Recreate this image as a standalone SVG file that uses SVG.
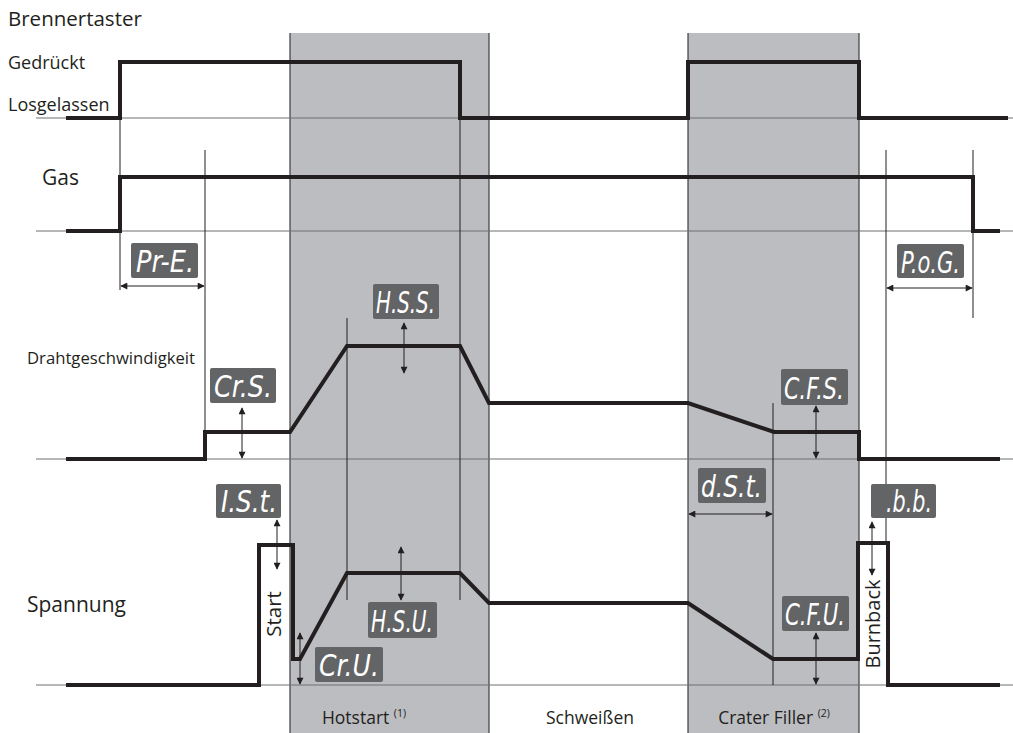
<svg xmlns="http://www.w3.org/2000/svg" width="1013" height="733" viewBox="0 0 1013 733">
<defs>
<marker id="ah" viewBox="0 0 10 10" refX="9" refY="5" markerWidth="8" markerHeight="7" markerUnits="userSpaceOnUse" orient="auto-start-reverse">
<path d="M0,0 L10,5 L0,10 z" fill="#231f20"/>
</marker>
<style>
.band{fill:#bcbdc0}
.edge{stroke:#3c3c3c;stroke-width:1.2}
.base{stroke:#6d6e70;stroke-width:1}
.guide{stroke:#231f20;stroke-width:1}
.sig{fill:none;stroke:#231f20;stroke-width:4;stroke-linejoin:miter}
.dim{stroke:#231f20;stroke-width:1;marker-start:url(#ah);marker-end:url(#ah)}
.lbl{font-family:"Open Sans","Liberation Sans",sans-serif;fill:#231f20}
.box{fill:#636466}
.seg{font-family:"DejaVu Sans","Liberation Sans",sans-serif;font-style:italic;font-weight:200;fill:#ffffff;font-size:31px}
</style>
</defs>
<rect width="1013" height="733" fill="#ffffff"/>
<g id="bands">
<rect class="band" x="290" y="33" width="199" height="700"/>
<rect class="band" x="688" y="33" width="171" height="700"/>
<line class="edge" x1="290" y1="33" x2="290" y2="733"/>
<line class="edge" x1="489" y1="33" x2="489" y2="733"/>
<line class="edge" x1="688" y1="33" x2="688" y2="733"/>
<line class="edge" x1="859" y1="33" x2="859" y2="733"/>
</g>
<g id="connectors">
<line class="base" x1="36" y1="118" x2="1013" y2="118"/>
<line class="base" x1="36" y1="231" x2="1013" y2="231"/>
<line class="base" x1="36" y1="459" x2="1013" y2="459"/>
<line class="base" x1="36" y1="685" x2="1013" y2="685"/>
<line class="guide" x1="120" y1="118" x2="120" y2="290"/>
<line class="guide" x1="205" y1="150" x2="205" y2="432"/>
<line class="guide" x1="347" y1="318" x2="347" y2="600"/>
<line class="guide" x1="460" y1="118" x2="460" y2="600"/>
<line class="guide" x1="773" y1="403" x2="773" y2="685"/>
<line class="guide" x1="886" y1="150" x2="886" y2="543"/>
<line class="guide" x1="973" y1="150" x2="973" y2="318"/>
<polyline class="sig" points="66,118 120,118 120,62 460,62 460,118 688,118 688,62 859,62 859,118 1008,118"/>
<polyline class="sig" points="66,231 120,231 120,177 973,177 973,231 1000,231"/>
<polyline class="sig" points="66,459 205,459 205,432 290,432 347,346 460,346 489,403 688,403 774,432 859,432 859,459 1000,459"/>
<polyline class="sig" points="66,685 259,685 259,545 293,545 293,659 300,659 347,573 460,573 489,603 688,603 773,659 858,659 858,543 888,543 888,685 1000,685"/>
<line class="dim" x1="121" y1="286" x2="204" y2="286"/>
<line class="dim" x1="887" y1="288" x2="972" y2="288"/>
<line class="dim" x1="689" y1="514" x2="772" y2="514"/>
<line class="dim" x1="242" y1="408" x2="242" y2="458"/>
<line class="dim" x1="404" y1="323" x2="404" y2="373"/>
<line class="dim" x1="816" y1="406" x2="816" y2="458"/>
<line class="dim" x1="872" y1="522" x2="872" y2="575"/>
<line class="dim" x1="816" y1="633" x2="816" y2="684"/>
<line class="dim" x1="277" y1="520" x2="277" y2="569"/>
<line class="dim" x1="401" y1="547" x2="401" y2="600"/>
<line class="dim" x1="300" y1="633" x2="300" y2="684"/>
</g>
<g id="labels">
<text class="lbl" x="8" y="26" font-size="20.5">Brennertaster</text>
<text class="lbl" x="8" y="69" font-size="18">Gedrückt</text>
<text class="lbl" x="8" y="111" font-size="18">Losgelassen</text>
<text class="lbl" x="42" y="185" font-size="21">Gas</text>
<text class="lbl" x="27" y="364" font-size="16" textLength="168" lengthAdjust="spacingAndGlyphs">Drahtgeschwindigkeit</text>
<text class="lbl" x="27" y="612" font-size="21">Spannung</text>
<text class="lbl" x="273" y="614" font-size="20.5" text-anchor="middle" dominant-baseline="central" transform="rotate(-90 273 614)">Start</text>
<text class="lbl" x="872" y="624" font-size="20" text-anchor="middle" dominant-baseline="central" transform="rotate(-90 872 624)">Burnback</text>
<text class="lbl" x="364" y="724" font-size="17.5" text-anchor="middle">Hotstart <tspan font-size="10.5" dy="-7">(1)</tspan></text>
<text class="lbl" x="590" y="724" font-size="17.5" text-anchor="middle">Schweißen</text>
<text class="lbl" x="774" y="724" font-size="17.5" text-anchor="middle">Crater Filler <tspan font-size="10.5" dy="-7">(2)</tspan></text>
</g>
<g id="node-PrE"><rect class="box" x="131" y="243" width="67" height="35" rx="2"/><text class="seg" x="136" y="272" textLength="58" lengthAdjust="spacingAndGlyphs">Pr-E.</text></g>
<g id="node-PoG"><rect class="box" x="897" y="244" width="67" height="34" rx="2"/><text class="seg" x="901" y="273" textLength="59" lengthAdjust="spacingAndGlyphs">P.o.G.</text></g>
<g id="node-CrS"><rect class="box" x="210" y="368" width="66" height="35" rx="2"/><text class="seg" x="214" y="397" textLength="58" lengthAdjust="spacingAndGlyphs">Cr.S.</text></g>
<g id="node-HSS"><rect class="box" x="373" y="284" width="66" height="35" rx="2"/><text class="seg" x="376" y="313" textLength="59" lengthAdjust="spacingAndGlyphs">H.S.S.</text></g>
<g id="node-CFS"><rect class="box" x="781" y="369" width="67" height="36" rx="2"/><text class="seg" x="784" y="399" textLength="60" lengthAdjust="spacingAndGlyphs">C.F.S.</text></g>
<g id="node-dSt"><rect class="box" x="698" y="468" width="68" height="35" rx="2"/><text class="seg" x="701" y="497" textLength="61" lengthAdjust="spacingAndGlyphs">d.S.t.</text></g>
<g id="node-bb"><rect class="box" x="871" y="484" width="65" height="34" rx="2"/><text class="seg" x="886" y="512" textLength="46" lengthAdjust="spacingAndGlyphs">.b.b.</text></g>
<g id="node-ISt"><rect class="box" x="216" y="484" width="65" height="34" rx="2"/><text class="seg" x="221" y="512" textLength="56" lengthAdjust="spacingAndGlyphs">I.S.t.</text></g>
<g id="node-HSU"><rect class="box" x="368" y="602" width="69" height="36" rx="2"/><text class="seg" x="371" y="632" textLength="62" lengthAdjust="spacingAndGlyphs">H.S.U.</text></g>
<g id="node-CrU"><rect class="box" x="315" y="647" width="68" height="35" rx="2"/><text class="seg" x="319" y="676" textLength="60" lengthAdjust="spacingAndGlyphs">Cr.U.</text></g>
<g id="node-CFU"><rect class="box" x="782" y="596" width="67" height="35" rx="2"/><text class="seg" x="785" y="625" textLength="60" lengthAdjust="spacingAndGlyphs">C.F.U.</text></g>
</svg>
